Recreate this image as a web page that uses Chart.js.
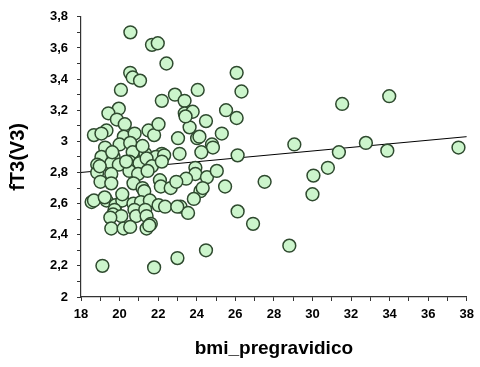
<!DOCTYPE html>
<html lang="it">
<head>
<meta charset="UTF-8">
<title>fT3(V3) vs bmi_pregravidico</title>
<script src="https://cdn.jsdelivr.net/npm/chart.js"></script>
<style>
  html, body { margin: 0; padding: 0; background: #fff; }
  #wrap { width: 480px; height: 367px; }
</style>
</head>
<body>
<div id="wrap"><canvas id="chart"></canvas></div>
<script>
// bmi values (x) and fT3 values (y)
const bmi = [
  20.56, 21.68, 21.98, 22.43, 20.55, 20.68, 21.06, 20.07, 26.07, 26.32,
  24.05, 22.87, 22.19, 23.37, 19.96, 19.42, 19.86, 20.27, 19.32, 18.67,
  19.06, 20.22, 20.78, 20.00, 20.55, 21.50, 21.79, 22.02, 23.38, 23.63,
  23.79, 24.02, 23.03, 23.11, 22.19, 21.33, 20.68, 19.25, 19.06, 19.69,
  21.88, 22.31, 23.42, 24.48, 25.52, 26.07, 25.30, 24.14, 24.79, 24.84,
  24.24, 26.12, 29.06, 23.93, 23.93, 23.45, 24.53, 25.04, 25.47, 24.19,
  24.31, 23.85, 23.16, 23.55, 27.52, 26.12, 26.92, 24.48, 28.80, 30.05,
  30.00, 23.00, 31.54, 33.98, 32.77, 31.37, 33.88, 37.57, 30.80, 18.84,
  19.57, 19.96, 20.51, 21.03, 21.40, 21.68, 22.19, 18.84, 19.57, 20.51,
  20.96, 21.45, 19.01, 19.57, 20.72, 21.19, 21.28, 22.09, 22.14, 22.65,
  22.94, 18.55, 18.67, 19.32, 19.79, 20.14, 20.72, 21.11, 21.57, 22.02,
  22.36, 22.99, 19.74, 19.66, 20.09, 19.52, 20.77, 20.86, 21.33, 21.40,
  19.57, 20.21, 20.55, 21.40, 21.62, 19.11, 21.79, 19.23, 20.14, 21.19,
  19.62, 20.34, 18.97, 21.54
];
const ft3 = [
  3.70, 3.62, 3.63, 3.50, 3.44, 3.41, 3.39, 3.33, 3.44, 3.32,
  3.33, 3.30, 3.26, 3.26, 3.21, 3.18, 3.14, 3.11, 3.07, 3.04,
  3.05, 3.03, 3.05, 2.98, 2.99, 3.07, 3.04, 3.11, 3.18, 3.09,
  3.19, 3.02, 3.02, 2.92, 2.92, 2.92, 2.93, 2.96, 2.90, 2.90,
  2.90, 2.91, 3.16, 3.13, 3.20, 3.15, 3.05, 3.03, 2.98, 2.96,
  2.93, 2.91, 2.98, 2.83, 2.79, 2.76, 2.77, 2.81, 2.71, 2.68,
  2.70, 2.63, 2.58, 2.54, 2.74, 2.55, 2.47, 2.30, 2.33, 2.78,
  2.66, 2.25, 3.24, 3.29, 2.99, 2.93, 2.94, 2.96, 2.83, 2.85,
  2.86, 2.85, 2.87, 2.86, 2.89, 2.84, 2.87, 2.80, 2.79, 2.81,
  2.79, 2.81, 2.74, 2.73, 2.73, 2.70, 2.68, 2.75, 2.71, 2.70,
  2.74, 2.61, 2.62, 2.62, 2.59, 2.62, 2.60, 2.61, 2.62, 2.59,
  2.58, 2.58, 2.56, 2.53, 2.52, 2.51, 2.56, 2.52, 2.56, 2.52,
  2.44, 2.44, 2.45, 2.44, 2.47, 2.20, 2.19, 2.64, 2.66, 2.97,
  2.93, 2.87, 2.84, 2.46
];

// regression line ends
const fitX = [18, 38];
const fitY = [2.80, 3.03];

// tick labels
const xLabels = ['18', '20', '22', '24', '26', '28', '30', '32', '34', '36', '38'];
const yLabels = ['2', '2,2', '2,4', '2,6', '2,8', '3', '3,2', '3,4', '3,6', '3,8'];

const points = bmi.map((x, i) => ({ x: x, y: ft3[i] }));
const fitLine = fitX.map((x, i) => ({ x: x, y: fitY[i] }));

const axisColor = '#333';
const tickFont = { family: 'Liberation Sans', size: 13, weight: 'bold' };

new Chart(document.getElementById('chart'), {
  type: 'scatter',
  data: {
    datasets: [
      {
        label: 'fT3',
        data: points,
        backgroundColor: '#ccf5cc',
        borderColor: '#2f4a2f',
        borderWidth: 1.5,
        pointRadius: 6.4,
        order: 1
      },
      {
        type: 'line',
        label: 'fit',
        data: fitLine,
        borderColor: '#000',
        borderWidth: 1,
        pointRadius: 0,
        fill: false,
        order: 2
      }
    ]
  },
  options: {
    responsive: true,
    maintainAspectRatio: false,
    animation: false,
    layout: { padding: { left: 0, right: 9, top: 15, bottom: 0 } },
    plugins: {
      legend: { display: false },
      tooltip: { enabled: false }
    },
    scales: {
      x: {
        type: 'linear',
        min: 18,
        max: 38,
        afterFit: (s) => { s.height = 70; },
        border: { color: axisColor, width: 1.2 },
        grid: { drawOnChartArea: false, tickLength: 4, tickColor: axisColor },
        ticks: {
          stepSize: 1,
          color: '#000',
          font: tickFont,
          padding: 6,
          maxRotation: 0,
          autoSkip: false,
          callback: (v) => (v % 2 === 0 ? xLabels[(v - 18) / 2] : '')
        },
        title: {
          display: true,
          text: 'bmi_pregravidico',
          color: '#000',
          font: { family: 'Liberation Sans', size: 19, weight: 'bold' },
          padding: { top: 0, bottom: 7 }
        }
      },
      y: {
        type: 'linear',
        min: 2,
        max: 3.8,
        afterFit: (s) => { s.width = 81; },
        border: { color: axisColor, width: 1.2 },
        grid: { drawOnChartArea: false, tickLength: 4, tickColor: axisColor },
        ticks: {
          stepSize: 0.1,
          color: '#000',
          font: tickFont,
          padding: 9,
          autoSkip: false,
          callback: (v) => {
            const k = Math.round(v * 10) - 20;
            return k % 2 === 0 ? yLabels[k / 2] : '';
          }
        },
        title: {
          display: true,
          text: 'fT3(V3)',
          color: '#000',
          font: { family: 'Liberation Sans', size: 20, weight: 'bold' },
          padding: { top: 6, bottom: 0 }
        }
      }
    }
  }
});
</script>
</body>
</html>
